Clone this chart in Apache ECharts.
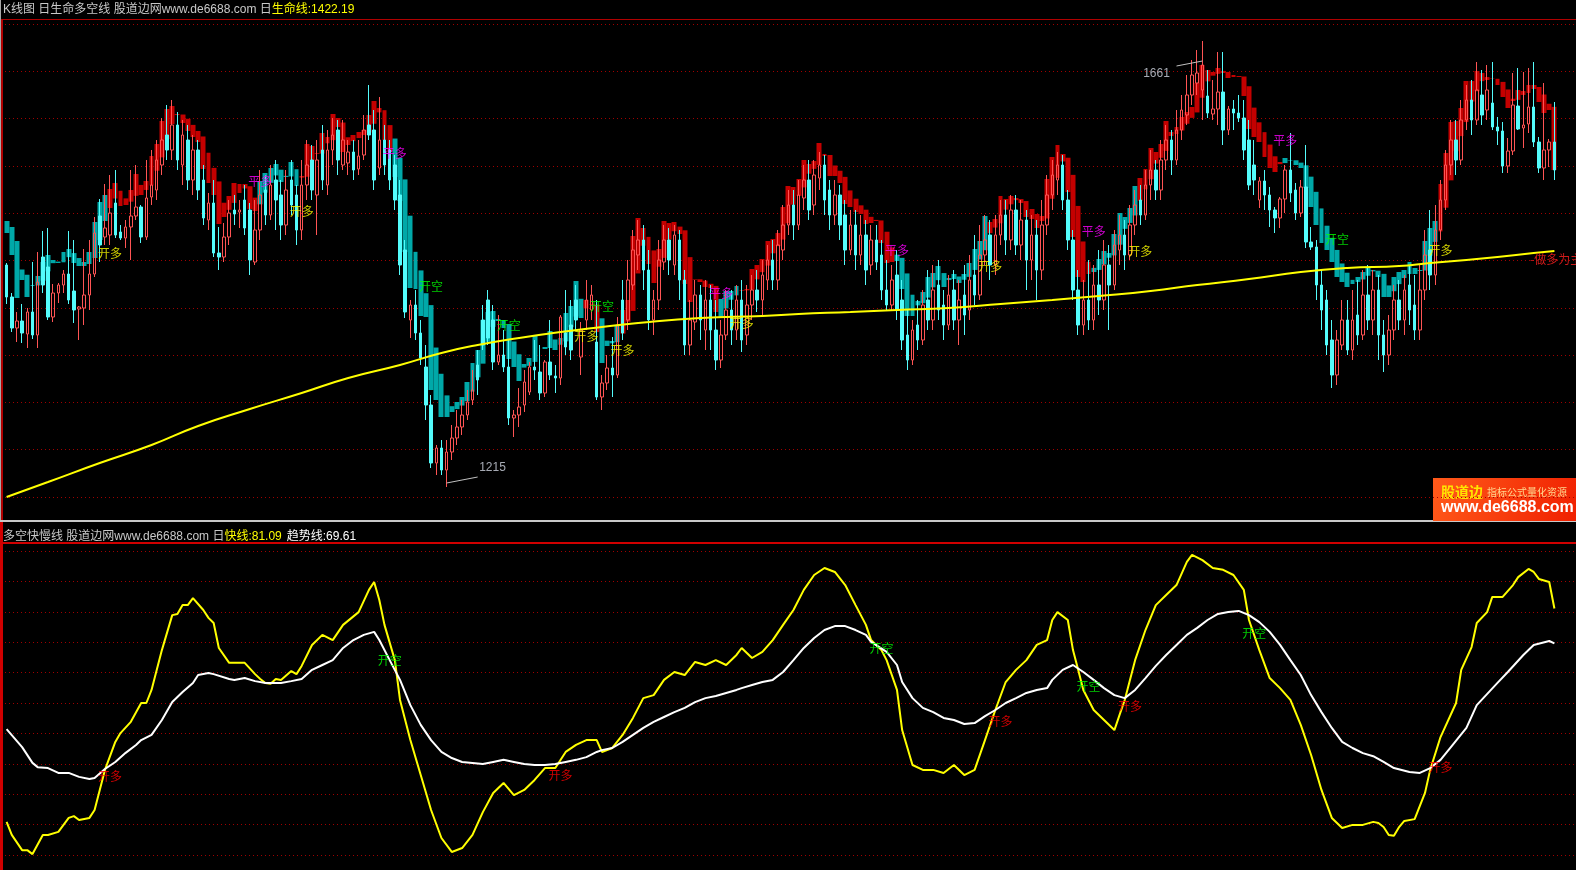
<!DOCTYPE html>
<html><head><meta charset="utf-8">
<script src="https://cdn.jsdelivr.net/npm/echarts@6/dist/echarts.min.js"></script>
<style>html,body{margin:0;padding:0;background:#000;overflow:hidden}#c{width:1576px;height:870px}</style>
</head><body><div id="c"></div>
<script>
// ---------- K-line (thin candles) ----------
const kOpen=[1437,1405,1374,1381,1368,1390,1367,1445,1435,1385,
1409,1417,1428,1411,1393,1394,1407,1428,1486,1465,
1467,1499,1470,1464,1475,1486,1495,1465,1505,1512,
1537,1567,1552,1577,1537,1562,1522,1552,1522,1482,
1499,1449,1445,1465,1492,1490,1502,1492,1440,1472,
1512,1487,1522,1507,1477,1522,1507,1472,1517,1542,
1507,1552,1517,1552,1572,1537,1539,1550,1533,1547,
1577,1572,1534,1562,1552,1537,1507,1452,1382,1397,
1369,1335,1297,1239,1254,1232,1250,1264,1275,1287,
1302,1337,1382,1402,1382,1340,1347,1335,1284,1287,
1297,1310,1335,1330,1309,1340,1326,1324,1369,1377,
1402,1345,1382,1392,1360,1305,1319,1334,1327,1402,
1382,1417,1447,1462,1432,1382,1402,1440,1462,1437,
1462,1422,1357,1380,1407,1372,1402,1372,1342,1367,
1392,1372,1402,1367,1397,1412,1402,1422,1442,1422,
1452,1477,1497,1477,1504,1522,1497,1524,1537,1512,
1487,1507,1487,1452,1477,1447,1467,1437,1462,1447,
1412,1397,1427,1402,1367,1342,1377,1362,1402,1382,
1417,1397,1377,1412,1382,1407,1392,1427,1407,1447,
1467,1437,1467,1487,1462,1492,1457,1482,1442,1467,
1432,1477,1507,1522,1537,1502,1462,1412,1377,1402,
1382,1417,1402,1437,1417,1452,1467,1447,1477,1502,
1487,1517,1532,1512,1542,1562,1542,1572,1587,1607,
1619,1612,1606,1588,1593,1610,1572,1593,1589,1584,
1562,1537,1502,1521,1507,1492,1484,1503,1532,1512,
1489,1515,1460,1455,1417,1402,1362,1327,1357,1382,
1352,1387,1367,1407,1382,1412,1367,1347,1372,1402,
1382,1417,1397,1372,1412,1452,1427,1472,1502,1537,
1562,1542,1582,1602,1582,1607,1592,1599,1575,1571,
1536,1551,1596,1574,1578,1595,1560,1534,1552,1560];
const kClose=[1405,1374,1381,1369,1390,1367,1420,1417,1385,1409,
1417,1428,1402,1392,1395,1407,1428,1469,1457,1474,
1489,1467,1464,1475,1486,1495,1465,1504,1517,1542,
1562,1552,1577,1542,1567,1522,1552,1512,1484,1499,
1449,1445,1465,1489,1488,1492,1474,1442,1472,1507,
1487,1517,1502,1477,1512,1497,1472,1517,1537,1512,
1542,1522,1552,1567,1542,1562,1550,1532,1546,1572,
1567,1522,1562,1537,1522,1502,1437,1390,1397,1369,
1344,1297,1239,1254,1232,1250,1264,1275,1287,1300,
1312,1322,1357,1364,1340,1347,1335,1284,1287,1295,
1320,1335,1332,1309,1340,1327,1324,1385,1355,1352,
1382,1372,1402,1407,1305,1319,1334,1327,1377,1369,
1422,1452,1462,1432,1382,1402,1442,1462,1442,1467,
1422,1357,1382,1407,1382,1402,1372,1342,1367,1392,
1372,1402,1362,1397,1412,1402,1427,1442,1422,1457,
1477,1497,1477,1507,1522,1492,1527,1537,1502,1487,
1507,1477,1452,1477,1447,1467,1432,1462,1440,1412,
1397,1422,1392,1362,1342,1372,1362,1397,1382,1412,
1392,1377,1407,1382,1402,1387,1422,1407,1447,1462,
1437,1467,1487,1462,1492,1457,1482,1442,1467,1432,
1477,1507,1527,1537,1502,1462,1412,1377,1402,1382,
1417,1402,1437,1417,1457,1467,1447,1477,1497,1487,
1517,1532,1512,1542,1562,1542,1572,1592,1607,1627,
1629,1637,1589,1593,1610,1572,1593,1589,1584,1552,
1517,1522,1521,1507,1492,1484,1503,1532,1509,1489,
1515,1460,1455,1417,1392,1357,1327,1362,1382,1352,
1382,1367,1407,1382,1412,1367,1347,1372,1402,1382,
1412,1392,1372,1412,1447,1427,1472,1502,1537,1562,
1542,1582,1602,1582,1612,1587,1612,1575,1571,1536,
1551,1597,1573,1577,1595,1560,1534,1552,1560,1532];
const kLow=[1398,1370,1360,1359,1354,1363,1354,1409,1382,1380,
1399,1409,1398,1379,1362,1377,1392,1425,1440,1457,
1457,1464,1462,1454,1442,1482,1459,1462,1497,1502,
1527,1542,1542,1532,1517,1512,1507,1502,1477,1472,
1445,1432,1440,1457,1477,1474,1467,1427,1437,1462,
1477,1482,1472,1462,1467,1487,1457,1462,1502,1502,
1467,1512,1507,1537,1527,1532,1527,1522,1527,1542,
1562,1512,1527,1527,1512,1492,1427,1384,1364,1362,
1337,1282,1234,1227,1227,1215,1242,1257,1267,1282,
1297,1307,1352,1357,1332,1337,1330,1277,1265,1275,
1290,1307,1322,1302,1305,1322,1309,1317,1347,1342,
1372,1327,1372,1382,1302,1292,1312,1305,1324,1362,
1372,1412,1432,1412,1372,1367,1392,1432,1427,1427,
1402,1347,1347,1372,1362,1352,1352,1332,1334,1362,
1357,1362,1350,1357,1382,1390,1387,1412,1412,1412,
1442,1467,1462,1472,1492,1482,1487,1512,1487,1472,
1477,1462,1437,1447,1432,1437,1417,1427,1432,1402,
1392,1392,1382,1352,1332,1337,1352,1357,1372,1372,
1382,1362,1372,1372,1357,1367,1382,1397,1402,1437,
1422,1427,1457,1447,1452,1447,1442,1412,1422,1402,
1422,1467,1492,1507,1492,1452,1402,1367,1367,1372,
1372,1387,1392,1372,1412,1437,1432,1442,1467,1477,
1482,1502,1502,1502,1532,1527,1537,1562,1577,1597,
1607,1582,1584,1582,1577,1557,1567,1572,1580,1542,
1512,1507,1494,1492,1475,1469,1474,1489,1500,1482,
1485,1454,1452,1402,1372,1347,1314,1317,1352,1347,
1342,1357,1362,1372,1367,1342,1330,1337,1362,1372,
1367,1377,1362,1362,1402,1412,1417,1462,1492,1527,
1527,1537,1572,1567,1577,1577,1582,1572,1557,1529,
1529,1547,1572,1554,1569,1555,1529,1522,1535,1522];
const kHigh=[1439,1409,1390,1398,1394,1440,1450,1471,1474,1418,
1419,1432,1471,1462,1396,1453,1462,1485,1503,1518,
1527,1532,1477,1482,1532,1537,1497,1542,1552,1562,
1584,1597,1602,1590,1582,1577,1567,1562,1537,1509,
1522,1475,1479,1502,1507,1502,1517,1499,1502,1532,
1527,1537,1542,1522,1532,1542,1517,1542,1562,1557,
1562,1577,1572,1584,1582,1582,1562,1562,1562,1587,
1617,1592,1605,1577,1562,1547,1522,1462,1402,1412,
1382,1357,1307,1257,1262,1262,1277,1292,1302,1312,
1332,1352,1397,1412,1397,1387,1372,1362,1292,1314,
1332,1340,1362,1357,1342,1382,1337,1387,1412,1402,
1417,1380,1422,1417,1402,1327,1347,1365,1385,1422,
1442,1472,1482,1477,1452,1412,1462,1477,1474,1477,
1472,1432,1402,1422,1417,1422,1417,1402,1382,1412,
1412,1417,1422,1417,1427,1432,1442,1457,1462,1472,
1497,1512,1512,1522,1537,1542,1542,1550,1547,1522,
1522,1517,1502,1492,1492,1487,1482,1477,1477,1462,
1442,1437,1452,1422,1392,1382,1402,1412,1432,1437,
1442,1412,1427,1432,1422,1437,1447,1467,1477,1487,
1482,1487,1502,1502,1507,1507,1502,1492,1487,1482,
1502,1527,1542,1550,1547,1512,1472,1432,1422,1442,
1437,1452,1462,1457,1472,1487,1482,1497,1512,1517,
1532,1552,1542,1562,1577,1572,1592,1607,1627,1642,
1652,1661,1632,1622,1650,1650,1596,1602,1607,1602,
1582,1562,1525,1532,1515,1495,1505,1537,1569,1519,
1522,1557,1475,1462,1432,1412,1382,1372,1402,1402,
1412,1422,1432,1437,1432,1427,1382,1387,1417,1422,
1427,1437,1427,1437,1472,1492,1497,1522,1552,1582,
1582,1602,1617,1622,1640,1632,1637,1640,1585,1580,
1564,1629,1634,1630,1634,1640,1565,1619,1563,1600];

// ---------- wide body boxes (HA close) ----------
const haOpenStart=1481;
const haClose=[1469,1447,1404,1422,1405,1417,1426,1440,1447,1442,
1439,1450,1453,1439,1436,1436,1450,1480,1500,1507,
1513,1519,1496,1497,1512,1528,1507,1521,1546,1558,
1581,1593,1596,1588,1579,1571,1565,1560,1533,1519,
1507,1478,1485,1506,1519,1518,1518,1493,1491,1521,
1529,1534,1538,1520,1525,1540,1516,1526,1558,1556,
1548,1569,1565,1588,1584,1550,1557,1567,1570,1572,
1587,1601,1594,1562,1550,1525,1501,1450,1414,1413,
1386,1385,1312,1302,1285,1285,1290,1300,1305,1320,
1339,1352,1382,1390,1391,1381,1374,1343,1335,1321,
1338,1344,1366,1353,1355,1371,1352,1364,1389,1396,
1421,1384,1402,1397,1370,1339,1356,1361,1377,1392,
1402,1466,1484,1474,1438,1419,1453,1481,1479,1480,
1468,1418,1400,1423,1420,1415,1414,1390,1384,1411,
1411,1416,1412,1413,1433,1437,1443,1461,1463,1469,
1495,1516,1515,1523,1542,1538,1541,1559,1546,1526,
1526,1519,1498,1495,1490,1488,1478,1479,1481,1459,
1439,1440,1441,1413,1386,1386,1401,1410,1425,1429,
1436,1415,1424,1428,1419,1428,1439,1453,1461,1486,
1480,1483,1506,1503,1506,1504,1499,1485,1483,1474,
1486,1523,1545,1557,1548,1510,1465,1425,1420,1428,
1430,1443,1451,1449,1468,1489,1485,1494,1516,1524,
1533,1554,1550,1558,1581,1570,1575,1585,1590,1595,
1619,1637,1632,1630,1634,1629,1624,1625,1625,1606,
1573,1565,1560,1545,1534,1530,1540,1544,1542,1537,
1534,1514,1495,1477,1459,1452,1440,1425,1420,1415,
1418,1425,1430,1435,1432,1425,1405,1405,1425,1430,
1432,1440,1428,1432,1461,1474,1481,1518,1549,1580,
1581,1594,1621,1621,1631,1629,1622,1623,1617,1605,
1594,1601,1612,1611,1617,1617,1600,1589,1592,1532];

// ---------- 生命线 (sparse readings: [index, value]) ----------
const lifeLine=[[0,1205],[8,1220],[18,1239],[28,1257],[37,1276],[47,1293],[57,1309],[66,1324],[76,1337],[84,1349],[91,1357],[99,1364],[107,1370],[115,1375],[122,1379],[134,1384],[146,1386],[153,1388],[163,1390],[172,1392],[182,1394],[192,1398],[202,1402],[211,1406],[221,1411],[230,1417],[240,1423],[250,1430],[259,1434],[269,1436],[275,1439],[282,1442],[288,1445],[295,1449],[299,1451]];

// ---------- signals ----------
const topSignals=[[20,1449,'开多'],[49,1521,'平多'],[57,1491,'开多'],[75,1549,'平多'],[82,1416,'开空'],[97,1377,'开空'],[112,1366,'开多'],[115,1396,'开空'],[119,1352,'开多'],[138,1409,'平多'],[142,1379,'开多'],[172,1452,'平多'],[190,1436,'开多'],[210,1471,'平多'],[219,1451,'开多'],[247,1562,'平多'],[257,1463,'开空'],[277,1452,'开多']];
const bottomSignals=[[20,25.7,'开多'],[74,64.1,'开空'],[107,26.3,'开多'],[169,68.1,'开空'],[192,44,'开多'],[209,55.3,'开空'],[217,49,'开多'],[241,73,'开空'],[277,28.9,'开多']];

// ---------- 快线 / 趋势线 ([index, value]) ----------
const fastLine=[[0,10.9],[1,6.6],[3,1.6],[4,1.6],[5,0.3],[7,6.6],[8,6.6],[10,7.6],[12,12.2],[13,12.8],[14,11.5],[16,12.2],[17,14.8],[18,21.4],[19,28],[21,37.2],[22,40.1],[24,43.8],[26,50],[27,50],[28,54.3],[30,67.4],[32,78.9],[33,79.3],[34,82.2],[35,82.2],[36,84.5],[38,80.6],[39,78],[40,76.3],[41,68.1],[43,63.2],[46,63.2],[48,59.5],[49,57.9],[50,56.6],[51,56.3],[52,57.9],[53,57.6],[55,60.5],[56,59.5],[57,62.2],[59,69.1],[61,72.4],[63,70.7],[65,75.7],[68,79.9],[70,87.2],[71,89.8],[72,83.9],[73,75.7],[75,64.1],[76,51],[78,37.8],[80,26.3],[82,14.8],[84,5.6],[86,1],[88,2.3],[90,6.6],[92,14.1],[94,20.4],[96,23.7],[98,19.7],[100,21.4],[102,24.7],[104,28.6],[106,28.6],[108,33.9],[110,36.2],[112,37.8],[114,37.8],[115,33.9],[117,35.2],[119,39.5],[121,45.1],[123,51.6],[125,52.6],[127,57.6],[129,60.2],[131,59.2],[133,63.5],[135,62.5],[137,64.1],[139,62.5],[141,65.8],[142,68.1],[144,64.8],[146,66.8],[148,70.7],[150,75.7],[152,80.6],[154,87.2],[156,92.1],[158,94.4],[160,93.1],[162,88.8],[164,82.2],[166,75.7],[167,70.7],[169,67.4],[170,64.1],[172,54.3],[173,41.1],[175,29.6],[177,28],[179,28],[181,27],[183,29.6],[185,26.3],[187,28],[189,37.8],[191,47.7],[193,56.9],[195,60.9],[197,64.1],[199,69.1],[201,70.7],[202,77.3],[203,79.9],[205,77.3],[206,67.4],[207,60.9],[208,54.3],[210,47.7],[212,44.4],[214,41.1],[215,46.1],[216,51],[218,64.1],[220,74],[222,82.2],[224,85.5],[226,88.8],[228,96.4],[229,98.7],[231,97],[233,94.4],[235,93.8],[237,92.1],[239,87.2],[240,77.3],[242,67.4],[244,58.2],[246,54.9],[248,51],[250,42.8],[252,32.9],[254,21.4],[256,12.2],[258,8.9],[260,9.9],[262,9.9],[264,10.9],[265,10.5],[266,9.2],[267,6.6],[268,6.3],[269,9.2],[270,11.2],[272,11.8],[274,20.4],[275,28],[277,38.8],[280,50],[281,60.9],[283,68.4],[284,76.3],[286,79.9],[287,84.9],[289,84.9],[291,88.8],[292,91.4],[294,94.1],[295,93.1],[296,90.8],[298,89.8],[299,81.09]];
const trendLine=[[0,41.4],[3,35.5],[5,30.3],[6,28.9],[8,28.6],[10,27],[12,27],[14,25.7],[16,25],[17,25.3],[19,28.3],[21,30.6],[23,33.6],[25,36.2],[26,37.8],[28,39.5],[30,44.4],[32,50.3],[34,53.6],[36,56.6],[37,59.2],[39,59.9],[40,59.5],[43,57.9],[44,57.6],[46,58.2],[48,57.2],[50,56.6],[53,56.6],[55,57.2],[57,57.9],[59,60.9],[61,62.5],[63,64.1],[65,68.1],[67,70.7],[69,72.4],[71,73.4],[72,70.7],[74,64.1],[76,57.6],[78,49.3],[80,42.8],[82,37.8],[84,33.9],[86,31.9],[88,30.6],[90,30.3],[92,29.9],[94,30.6],[96,31.3],[98,30.6],[100,29.9],[102,29.6],[104,29.6],[106,29.9],[108,30.6],[110,31.3],[112,32.2],[114,33.9],[115,34.5],[117,35.2],[119,37.2],[121,39.5],[123,41.8],[125,43.8],[127,45.4],[129,47],[131,48.4],[133,50.3],[135,51.6],[137,52.3],[139,53.3],[141,54.3],[142,54.9],[144,55.9],[146,56.9],[148,57.6],[150,60.2],[152,64.1],[154,68.1],[156,71.4],[158,74],[160,75.3],[162,75.3],[164,74],[166,72.4],[167,70.1],[170,66.8],[172,62.5],[173,56.9],[175,51.6],[177,48.4],[179,47],[181,45.1],[183,44.4],[185,43.1],[187,43.4],[189,45.7],[191,47.7],[193,50],[195,51.6],[197,53.3],[199,54.3],[201,54.9],[202,57.6],[204,60.9],[206,62.5],[208,60.2],[210,57.6],[212,54.9],[214,52.6],[216,51.6],[218,54.3],[220,58.2],[222,62.2],[224,65.8],[226,69.1],[228,72.4],[230,74.7],[232,77.3],[234,79.3],[236,79.9],[238,80.3],[240,78.9],[242,76.6],[244,73.4],[246,69.1],[248,64.1],[250,59.2],[252,52.6],[254,47],[256,41.8],[258,37.2],[260,35.2],[262,33.5],[264,32.5],[266,30.6],[268,28.6],[271,27.3],[273,27],[275,28.6],[277,31.3],[279,35.5],[282,41.8],[284,49.3],[288,56.6],[290,60.2],[293,65.8],[295,69.1],[298,70.4],[299,69.61]];

// ---------- annotations ----------
const extremeNotes=[{lineFrom:[231,1641],lineTo:[226,1636],textAt:[225,1628],side:'left',kind:'max'},{lineFrom:[85,1219],lineTo:[91,1225],textAt:[91,1234],side:'right',kind:'min'}];
const trendNote=[294,1443,'-做多为主'];

// ---------- build ----------
const N=Math.min(kOpen.length,kClose.length,kLow.length,kHigh.length,haClose.length);
const categories=Array.from({length:N},(_,i)=>i);
const F='"Noto Sans CJK SC","Noto Sans",sans-serif';
const FT='"Liberation Sans","Noto Sans CJK SC",sans-serif';
const haOpen=[haOpenStart];
for(let i=1;i<N;i++) haOpen.push((haOpen[i-1]+haClose[i-1])/2);
const sig=topSignals.slice().sort((a,b)=>a[0]-b[0]);
const longState=[];let st=false,si=0;
for(let i=0;i<N;i++){while(si<sig.length&&sig[si][0]<=i){st=(sig[si][2]==='开多');si++;}longState.push(st);}
const RED='#C40000',TEAL='#00A8A8';
const boxData=categories.map(i=>{const o=haOpen[i],c=haClose[i],col=longState[i]?RED:TEAL;
 return {value:[o,c,Math.min(o,c),Math.max(o,c)],itemStyle:{color:col,color0:col,borderColor:col,borderColor0:col,borderColorDoji:col,borderWidth:0}};});
const kData=categories.map(i=>[kOpen[i],kClose[i],kLow[i],kHigh[i]]);
const maxHigh=Math.max(...kHigh.slice(0,N)),minLow=Math.min(...kLow.slice(0,N));
const topColor={'开多':'#FFFF00','平多':'#FF00FF','开空':'#00FF00'};
const botColor={'开多':'#FF0000','开空':'#00FF00'};
const fastLast=fastLine[fastLine.length-1][1].toFixed(2),trendLast=trendLine[trendLine.length-1][1].toFixed(2);

const gridAxisY=(g)=>({type:'value',gridIndex:g,min:0,max:10,interval:1,axisLine:{show:false},axisTick:{show:false},axisLabel:{show:false},splitLine:{show:true,lineStyle:{color:'#A00000',type:[1,3],width:1}}});

const chart=echarts.init(document.getElementById('c'),null,{renderer:'canvas'});
chart.setOption({
 backgroundColor:'#000000',animation:false,
 title:[
  {left:3,top:4,padding:0,text:'{g|K线图 日生命多空线 股道边网www.de6688.com 日}{y|生命线:1422.19}',textStyle:{rich:{g:{color:'#C8C8C8',fontSize:12,fontFamily:FT,fontWeight:'normal'},y:{color:'#FFFF00',fontSize:12,fontFamily:FT,fontWeight:'normal'}}}},
  {left:3,top:528,padding:0,text:'{g|多空快慢线 股道边网www.de6688.com 日}{y|快线:'+fastLast+'} {w|趋势线:'+trendLast+'}',textStyle:{rich:{g:{color:'#C8C8C8',fontSize:12,fontFamily:FT,fontWeight:'normal'},y:{color:'#FFFF00',fontSize:12,fontFamily:FT,fontWeight:'normal'},w:{color:'#FFFFFF',fontSize:12,fontFamily:FT,fontWeight:'normal'}}}}
 ],
 grid:[{left:4,top:24,width:1553,height:473},{left:5,top:24,right:0,height:473},{left:4,top:551,width:1553,height:304},{left:5,top:551,right:0,height:304}],
 xAxis:[
  {type:'category',gridIndex:0,data:categories,boundaryGap:true,show:false},
  {type:'value',gridIndex:1,min:0,max:1,show:false},
  {type:'category',gridIndex:2,data:categories,boundaryGap:true,show:false},
  {type:'value',gridIndex:3,min:0,max:1,show:false}
 ],
 yAxis:[
  {type:'value',gridIndex:0,min:1205,max:1678,show:false},
  gridAxisY(1),
  {type:'value',gridIndex:2,min:0,max:100,show:false},
  gridAxisY(3)
 ],
 series:[
  {type:'line',xAxisIndex:1,yAxisIndex:1,data:[],silent:true},
  {type:'line',xAxisIndex:3,yAxisIndex:3,data:[],silent:true},
  {type:'candlestick',name:'body',xAxisIndex:0,yAxisIndex:0,barWidth:5.4,data:boxData,z:2,silent:true},
  {type:'candlestick',name:'K线',xAxisIndex:0,yAxisIndex:0,barWidth:3,data:kData,z:3,silent:true,
   itemStyle:{color:'rgba(0,0,0,0)',color0:'#54FCFC',borderColor:'#FF5454',borderColor0:'#54FCFC',borderColorDoji:'#FF5454',borderWidth:1},
   markLine:{silent:true,symbol:['none','none'],label:{show:false},lineStyle:{color:'#C0C0C0',width:1,type:'solid'},
    data:extremeNotes.map(n=>[{coord:n.lineFrom},{coord:n.lineTo}])}},
  {type:'line',name:'生命线',xAxisIndex:0,yAxisIndex:0,data:lifeLine,smooth:true,connectNulls:true,symbol:'none',lineStyle:{color:'#FFFF00',width:2},z:4,silent:true},
  {type:'scatter',xAxisIndex:0,yAxisIndex:0,symbolSize:1,itemStyle:{color:'rgba(0,0,0,0)'},z:5,silent:true,
   data:topSignals.map(s=>({name:s[2],value:[s[0],s[1]],label:{color:topColor[s[2]]}})),
   label:{show:true,position:'inside',formatter:p=>p.name,fontSize:12,fontFamily:F}},
  {type:'scatter',xAxisIndex:0,yAxisIndex:0,symbolSize:1,itemStyle:{color:'rgba(0,0,0,0)'},z:5,silent:true,
   data:extremeNotes.map(n=>({name:String(n.kind==='max'?maxHigh:minLow),value:n.textAt,label:{position:n.side}})).concat([{name:trendNote[2],value:[trendNote[0],trendNote[1]],label:{position:'right',color:'#FF2020',fontFamily:F,fontSize:12}}]),
   label:{show:true,distance:1,formatter:p=>p.name,fontSize:12,fontFamily:'"Liberation Sans",Arial,sans-serif',color:'#D0D4E0'}},
  {type:'line',name:'快线',xAxisIndex:2,yAxisIndex:2,data:fastLine,symbol:'none',lineStyle:{color:'#FFFF00',width:2},z:3,silent:true},
  {type:'line',name:'趋势线',xAxisIndex:2,yAxisIndex:2,data:trendLine,symbol:'none',lineStyle:{color:'#FFFFFF',width:2},z:3,silent:true},
  {type:'scatter',xAxisIndex:2,yAxisIndex:2,symbolSize:1,itemStyle:{color:'rgba(0,0,0,0)'},z:5,silent:true,
   data:bottomSignals.map(s=>({name:s[2],value:[s[0],s[1]],label:{color:botColor[s[2]]}})),
   label:{show:true,position:'inside',formatter:p=>p.name,fontSize:12,fontFamily:F}}
 ],
 graphic:[
  {type:'rect',silent:true,shape:{x:0,y:19,width:1576,height:1},style:{fill:'#B00000'}},
  {type:'rect',silent:true,shape:{x:0,y:520,width:1576,height:2},style:{fill:'#C8C8C8'}},
  {type:'rect',silent:true,shape:{x:0,y:542,width:1576,height:2},style:{fill:'#D00000'}},
  {type:'rect',silent:true,shape:{x:0,y:0,width:1,height:520},style:{fill:'#A8A8A8'}},
  {type:'rect',silent:true,shape:{x:1,y:19,width:2,height:501},style:{fill:'#B00000'}},
  {type:'rect',silent:true,shape:{x:0,y:522,width:3,height:348},style:{fill:'#D00000'}},
  {type:'group',left:1433,top:478,silent:true,children:[
   {type:'rect',shape:{x:0,y:0,width:143,height:43},style:{fill:new echarts.graphic.LinearGradient(0,0,1,1,[{offset:0,color:'#FF5A1A'},{offset:1,color:'#F02000'}])}},
   {type:'text',x:8,y:7,style:{text:'股道边',fill:'#FFE600',font:'bold 14px "Noto Sans CJK SC"',verticalAlign:'top'}},
   {type:'text',x:54,y:9,style:{text:'指标公式量化资源',fill:'#FFD890',font:'10px "Noto Sans CJK SC"',verticalAlign:'top'}},
   {type:'text',x:8,y:22,style:{text:'www.de6688.com',fill:'#FFFFFF',font:'bold 16px "Liberation Sans",Arial,sans-serif',verticalAlign:'top'}}
  ]}
 ]
});
</script></body></html>
